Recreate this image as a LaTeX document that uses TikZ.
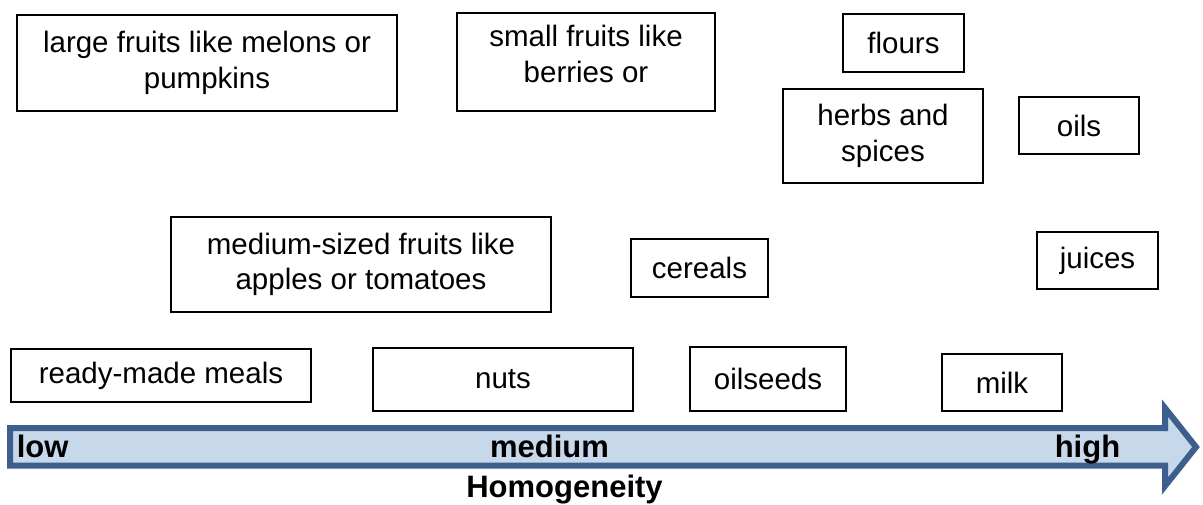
\documentclass[tikz,border=0pt]{standalone}
\usepackage{fontspec}
\setmainfont{Liberation Sans}
\usetikzlibrary{positioning}

\definecolor{axisline}{HTML}{3C5F8E}
\definecolor{axisfill}{HTML}{C8D8EB}

\begin{document}
\begin{tikzpicture} [x=1pt,y=-1pt,line width=1.6pt,
    box/.style={draw,inner sep=0pt,align=center,font=\fontsize{29.5}{35.5}\selectfont},
    scale label/.style={inner sep=0pt,font=\fontsize{31}{37}\selectfont\bfseries}]
  \useasboundingbox (0,0) rectangle (1203,505);

  % top row
  \node[box,minimum width=380,minimum height=96] (large) at (207,63) {large fruits like melons or\\pumpkins};
  \node[box,minimum width=258,minimum height=98] (small) at (586,62) {small fruits like\\berries or\\[-19pt]\mbox{}};
  \node[box,minimum width=121,minimum height=58] (flours) at (903.5,43) {flours};
  \node[box,minimum width=200,minimum height=94] (herbs) at (883,136) {herbs and\\spices};
  \node[box,minimum width=120,minimum height=57] (oils) at (1079,125.5) {oils};

  % middle row
  \node[box,minimum width=380,minimum height=95] (medium) at (361,264.5) {medium-sized fruits like\\apples or tomatoes};
  \node[box,minimum width=137,minimum height=58] (cereals) at (699.5,268) {cereals};
  \node[box,minimum width=121,minimum height=57] (juices) at (1097.5,260.5) {juices};

  % bottom row
  \node[box,minimum width=300,minimum height=53] (ready) at (161,375.5) {ready-made meals};
  \node[box,minimum width=260,minimum height=63] (nuts) at (503,379.5) {nuts};
  \node[box,minimum width=156,minimum height=64] (oilseeds) at (768,379) {oilseeds};
  \node[box,minimum width=120,minimum height=57] (milk) at (1002,382.5) {milk};

  % homogeneity scale
  \draw[line width=6pt,draw=axisline,fill=axisfill,line join=miter]
    (10,428) -- (1165,428) -- (1165,408) -- (1196,447) -- (1165,486) -- (1165,465.5) -- (10,465.5) -- cycle;
  \node[scale label,anchor=base west] (low) at (16,457.5) {low};
  \node[scale label,anchor=base] (mid) at (549.5,457.5) {medium};
  \node[scale label,anchor=base east] (high) at (1121,457.5) {high};
  \node[scale label,anchor=base] (title) at (564.5,497.5) {Homogeneity};
\end{tikzpicture}
\end{document}
